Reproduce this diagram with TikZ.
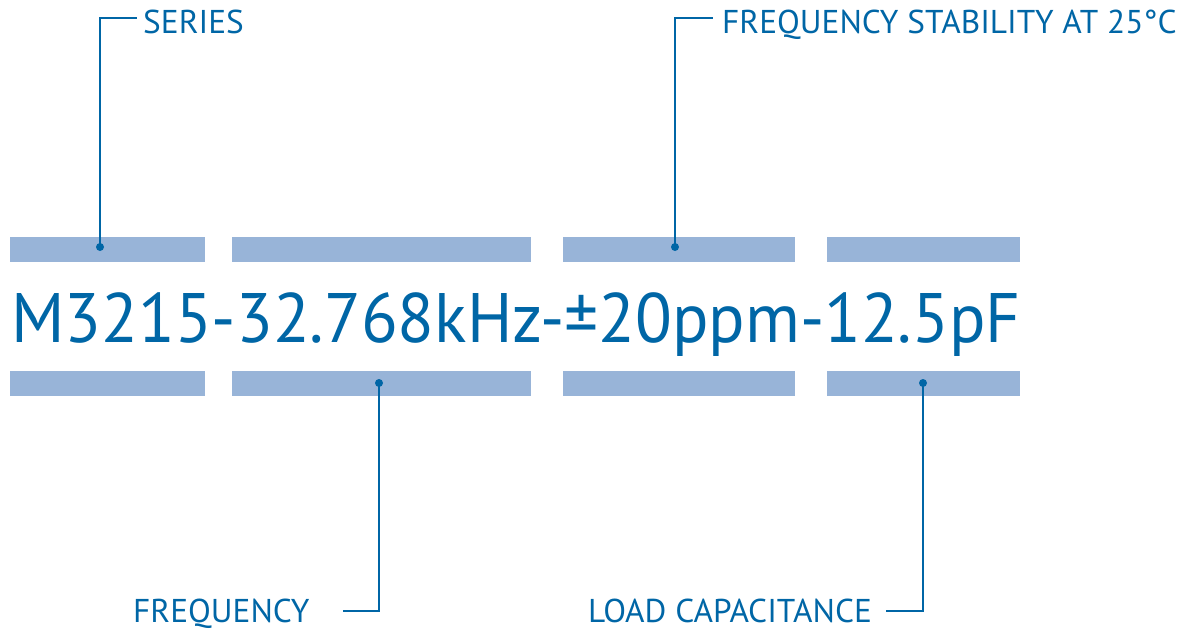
\documentclass[tikz,border=0pt]{standalone}
\usepackage{fontspec}
\setmainfont{PT Sans}
\newfontfamily\labelfont[FakeStretch=1.01]{PT Sans}
\newfontfamily\codefont[FakeStretch=0.965]{PT Sans}
\usepackage{tikz}
\usetikzlibrary{positioning, calc}
\usepackage{xcolor}
\definecolor{codeblue}{HTML}{0066A6}
\definecolor{barblue}{HTML}{98B4D8}

\tikzset{
    bar/.style={fill=barblue, draw=none},
    leader/.style={draw=codeblue, line width=2.4pt},
    label/.style={text=codeblue, inner sep=0pt, anchor=base west, font=\labelfont\fontsize{33}{36}\selectfont},
    dot/.style={fill=codeblue, draw=none}
}

\begin{document}
\begin{tikzpicture}[x=1pt, y=-1pt]
    \useasboundingbox (0, 0) rectangle (1186, 629);

    % Bars above the part number
    \fill[bar] (10, 237) rectangle (205, 262);
    \fill[bar] (232, 237) rectangle (531, 262);
    \fill[bar] (563, 237) rectangle (795, 262);
    \fill[bar] (827, 237) rectangle (1020, 262);

    % Bars below the part number
    \fill[bar] (10, 371) rectangle (205, 396);
    \fill[bar] (232, 371) rectangle (531, 396);
    \fill[bar] (563, 371) rectangle (795, 396);
    \fill[bar] (827, 371) rectangle (1020, 396);

    % Part number
    \node[text=codeblue, inner sep=0pt, anchor=base west, font=\codefont\fontsize{70}{80}\selectfont] (code) at (11, 342) {M3215-32.768kHz-±20ppm-12.5pF};

    % Labels
    \node[label] (series) at (143, 33) {SERIES};
    \node[label] (stability) at (722, 33) {FREQUENCY STABILITY AT 25°C};
    \node[label] (freq) at (133, 622) {FREQUENCY};
    \node[label] (load) at (588, 622) {LOAD CAPACITANCE};

    % Leader points
    \coordinate (d1) at (100, 247);
    \coordinate (d2) at (379, 383);
    \coordinate (d3) at (675, 247);
    \coordinate (d4) at (923, 383);
    \coordinate (e1) at (137, 18);
    \coordinate (e2) at (343, 611);
    \coordinate (e3) at (713, 18);
    \coordinate (e4) at (886, 611);

    % Leaders
    \draw[leader] (d1) |- (e1);
    \draw[leader] (d2) |- (e2);
    \draw[leader] (d3) |- (e3);
    \draw[leader] (d4) |- (e4);
    \foreach \d in {d1, d2, d3, d4}
        \fill[dot] (\d) circle (4);
\end{tikzpicture}
\end{document}
